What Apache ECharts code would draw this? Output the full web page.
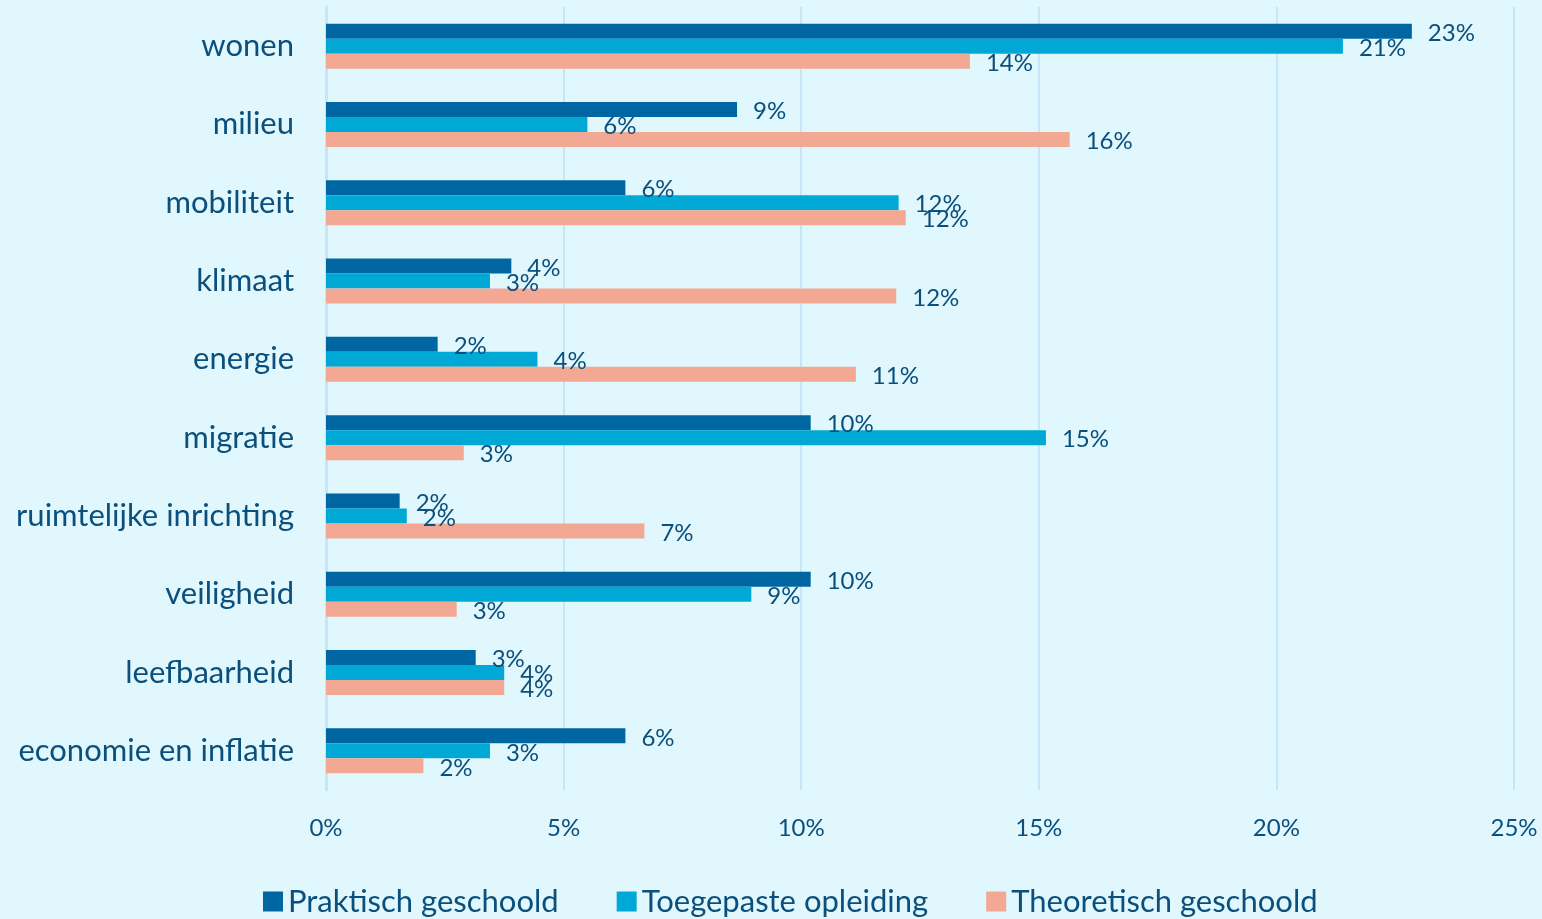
<!DOCTYPE html>
<html>
<head>
<meta charset="utf-8">
<script src="https://cdn.jsdelivr.net/npm/echarts@6/dist/echarts.min.js"></script>
<style>
  html, body { margin: 0; padding: 0; background: #e0f7fd; }
  #chart { width: 1542px; height: 919px; }
</style>
</head>
<body>
<div id="chart"></div>
<script>
  // categories, top to bottom
  var categories = ['wonen', 'milieu', 'mobiliteit', 'klimaat', 'energie', 'migratie',
    'ruimtelijke inrichting', 'veiligheid', 'leefbaarheid', 'economie en inflatie'];

  // percentages
  var praktisch = [22.85, 8.65, 6.3, 3.9, 2.35, 10.2, 1.55, 10.2, 3.15, 6.3];
  var toegepast = [21.4, 5.5, 12.05, 3.45, 4.45, 15.15, 1.7, 8.95, 3.75, 3.45];
  var theoretisch = [13.55, 15.65, 12.2, 12.0, 11.15, 2.9, 6.7, 2.75, 3.75, 2.05];

  var xTicks = [0, 5, 10, 15, 20, 25];

  var textColor = '#0b4f7c';
  var fontName = 'Lato';

  function makeSeries(name, values, color) {
    return {
      name: name,
      type: 'bar',
      data: values,
      barWidth: 15,
      barGap: '0%',
      itemStyle: { color: color },
      label: {
        show: true,
        position: 'right',
        distance: 16,
        offset: [0, 2],
        color: textColor,
        fontFamily: fontName,
        fontSize: 24,
        formatter: function (p) { return Math.round(p.value) + '%'; }
      }
    };
  }

  var chart = echarts.init(document.getElementById('chart'));
  chart.setOption({
    backgroundColor: '#e0f7fd',
    animation: false,
    textStyle: { fontFamily: fontName },
    grid: { left: 326, right: 28, top: 7, bottom: 129 },
    legend: {
      bottom: -3,
      left: 258,
      icon: 'rect',
      itemWidth: 20,
      itemHeight: 20,
      itemGap: 58,
      textStyle: { color: textColor, fontSize: 31, fontFamily: fontName },
      data: ['Praktisch geschoold', 'Toegepaste opleiding', 'Theoretisch geschoold']
    },
    xAxis: {
      type: 'value',
      min: xTicks[0],
      max: xTicks[xTicks.length - 1],
      interval: 5,
      axisLine: { show: false },
      axisTick: { show: false },
      splitLine: { lineStyle: { color: '#c5e6f7', width: 2 } },
      axisLabel: {
        color: textColor,
        fontSize: 24,
        fontFamily: fontName,
        margin: 26,
        formatter: '{value}%'
      }
    },
    yAxis: {
      type: 'category',
      inverse: true,
      data: categories,
      axisLine: { show: true, lineStyle: { color: '#c5e6f7', width: 3 } },
      axisTick: { show: false },
      axisLabel: {
        color: textColor,
        fontSize: 31,
        fontFamily: fontName,
        margin: 32
      }
    },
    series: [
      makeSeries('Praktisch geschoold', praktisch, '#0066a1'),
      makeSeries('Toegepaste opleiding', toegepast, '#00a8d6'),
      makeSeries('Theoretisch geschoold', theoretisch, '#f3a893')
    ]
  });
</script>
</body>
</html>
